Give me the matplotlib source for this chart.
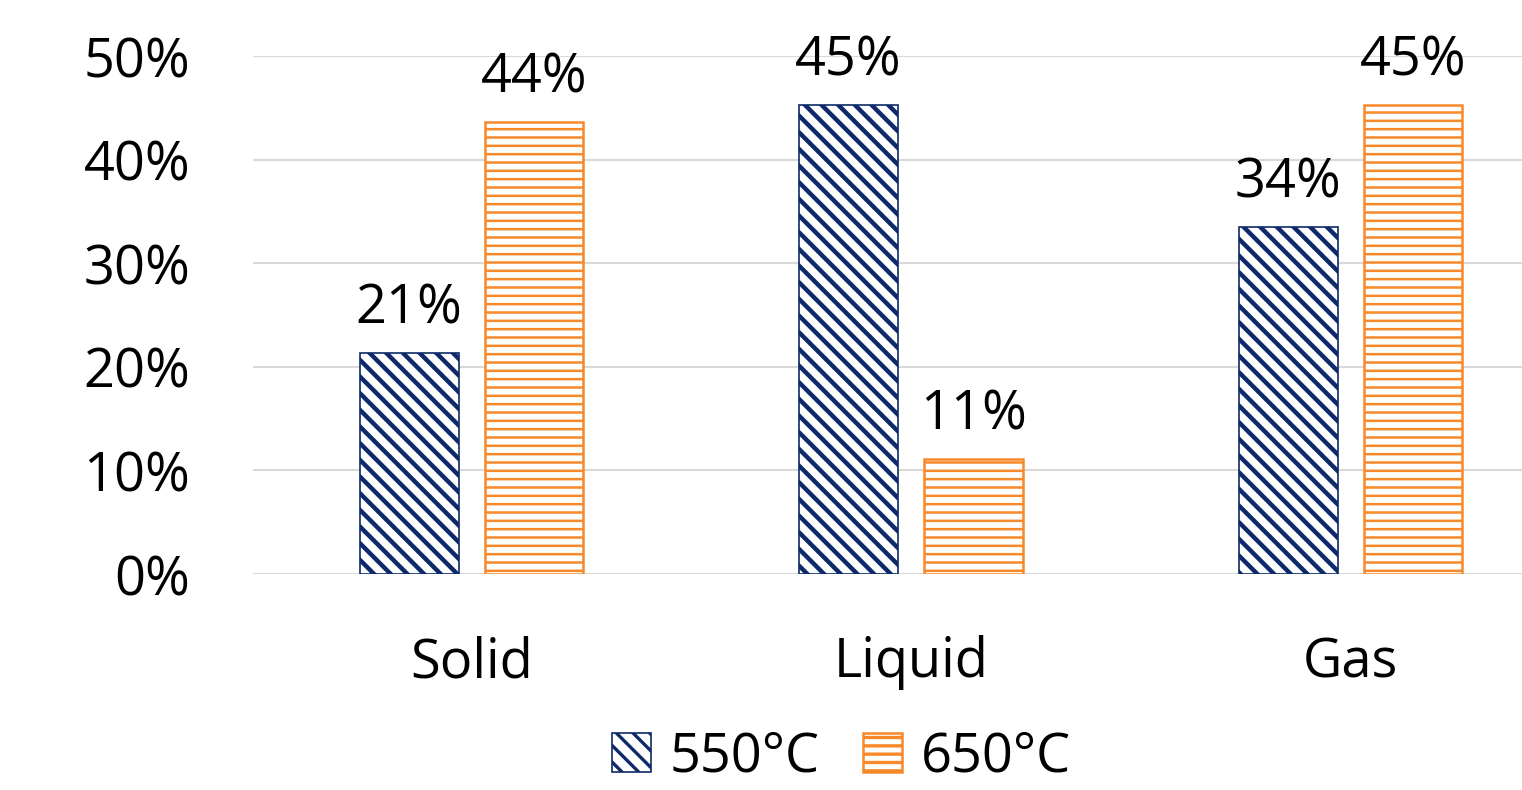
import numpy as np
import matplotlib
matplotlib.use("Agg")
import matplotlib.pyplot as plt
from matplotlib.ticker import PercentFormatter

categories = ["Solid", "Liquid", "Gas"]
series_names = ["550°C", "650°C"]
vals_550 = [0.213, 0.453, 0.335]
vals_650 = [0.436, 0.111, 0.453]
labels_550 = ["21%", "45%", "34%"]
labels_650 = ["44%", "11%", "45%"]

navy = "#0E2A6A"
orange = "#F7892B"

plt.rcParams['font.family'] = ['Open Sans', 'DejaVu Sans']
plt.rcParams['hatch.linewidth'] = 2.4

fig = plt.figure(figsize=(15.22, 7.9), dpi=100)
ax = fig.add_axes([0.166, 0.2734, 0.834, 0.6557])

x = np.arange(len(categories))
w = 0.225
off = 0.142

b1 = ax.bar(x - off, vals_550, w, facecolor="white", edgecolor=navy,
            hatch="\\\\", linewidth=1.2, label=series_names[0], zorder=3)
b2 = ax.bar(x + off, vals_650, w, facecolor="white", edgecolor=orange,
            hatch="--", linewidth=1.8, label=series_names[1], zorder=3)
# thicker diagonals, thinner horizontals
for r in b1:
    if hasattr(r, "set_hatch_linewidth"):
        r.set_hatch_linewidth(3.2)
for r in b2:
    if hasattr(r, "set_hatch_linewidth"):
        r.set_hatch_linewidth(1.8)

for bars, labs in ((b1, labels_550), (b2, labels_650)):
    for r, t in zip(bars, labs):
        ax.annotate(t, (r.get_x() + r.get_width() / 2, r.get_height()),
                    xytext=(0, 12), textcoords="offset points",
                    ha="center", va="bottom", fontsize=39)

ax.set_ylim(0, 0.5)
ax.set_xlim(-0.498, 2.39)
ax.set_yticks(np.arange(0, 0.51, 0.1))
ax.yaxis.set_major_formatter(PercentFormatter(1.0, decimals=0))
ax.set_xticks(x)
ax.set_xticklabels(categories)
ax.tick_params(axis="y", length=0, pad=45, labelsize=39)
ax.tick_params(axis="x", length=0, pad=44, labelsize=39)
ax.grid(axis="y", color="#D9D9D9", linewidth=1.5, zorder=0)
for s in ax.spines.values():
    s.set_visible(False)

ax.legend(loc="center", bbox_to_anchor=(0.464, -0.353), ncol=2,
          frameon=False, fontsize=39, handlelength=0.72, handleheight=0.72,
          handletextpad=0.35, columnspacing=0.8)

fig.savefig("out.png", dpi=100)
